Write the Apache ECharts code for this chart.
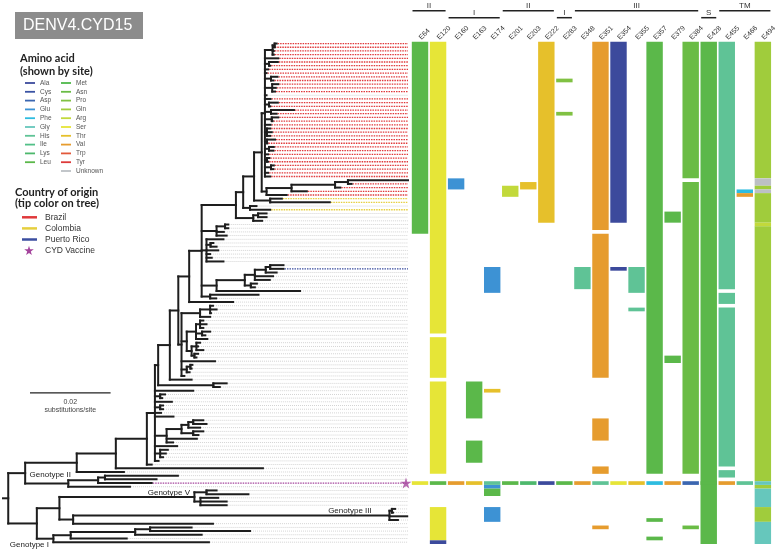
<!DOCTYPE html>
<html><head><meta charset="utf-8">
<script src="https://cdn.jsdelivr.net/npm/echarts@6/dist/echarts.min.js"></script>
<style>html,body{margin:0;padding:0;background:#fff}#c{width:779px;height:551px}</style>
</head><body><div id="c"></div>
<script>
// ---------------- data ----------------
const sites = ['E64','E120','E160','E163','E174','E201','E203','E222','E283','E348','E351','E354','E355','E357','E379','E384','E428','E455','E466','E494'];
const regionNames = ['II','I','II','I','III','S','TM'];
const regionFirst = [0,2,5,8,9,16,17];
const regionLast  = [1,4,7,8,15,16,19];
const regionTier  = [0,1,0,1,0,1,0];

const aminoAcids = ['Ala','Cys','Asp','Glu','Phe','Gly','His','Ile','Lys','Leu','Met','Asn','Pro','Gln','Arg','Ser','Thr','Val','Trp','Tyr','Unknown'];
const aaColors   = ['#3c4a9c','#3a53a4','#3b66b0','#3d92d4','#2dbce0','#66c7bc','#5fc396','#52c088','#4db86c','#5bb84a','#4fb84a','#6abc45','#80c143','#a0cc3c','#c2d93b','#e6e537','#e6c02b','#e69c2e','#e2583a','#dd3a3a','#bcc0c4'];

const countries    = ['Brazil','Colombia','Puerto Rico','CYD Vaccine'];
const countryCodes = ['B','C','P','V'];
const countryColors= ['#e0393b','#e6cf3e','#3b4ea0','#a4439c'];

const totalRows = 136;
const vaccineRow = 119;
const vaccineSites = ['Ser','Leu','Val','Thr','His','Leu','Lys','Ala','Leu','Val','His','Ser','Thr','Phe','Val','Asp','Leu','Val','His','Gly'];

// [site index, first row, end row (exclusive), amino acid]
const blocks = [
  [0,0,52,'Leu'],
  [1,0,79,'Ser'],[1,80,91,'Ser'],[1,92,117,'Ser'],[1,126,135,'Ser'],[1,135,136,'Ala'],
  [2,37,40,'Glu'],
  [3,92,102,'Leu'],[3,108,114,'Leu'],
  [4,61,68,'Glu'],[4,94,95,'Thr'],[4,120,121,'Glu'],[4,121,123,'Leu'],[4,126,130,'Glu'],
  [5,39,42,'Arg'],
  [6,38,40,'Thr'],
  [7,0,49,'Thr'],
  [8,10,11,'Pro'],[8,19,20,'Pro'],
  [9,61,67,'His'],
  [10,0,51,'Val'],[10,52,91,'Val'],[10,102,108,'Val'],[10,115,117,'Val'],[10,131,132,'Val'],
  [11,0,49,'Ala'],[11,61,62,'Ala'],
  [12,61,68,'His'],[12,72,73,'His'],
  [13,0,117,'Leu'],[13,129,130,'Leu'],[13,134,135,'Leu'],
  [14,46,49,'Leu'],[14,85,87,'Leu'],
  [15,0,37,'Asn'],[15,38,117,'Asn'],[15,131,132,'Asn'],
  [16,0,136,'Leu'],
  [17,0,67,'His'],[17,68,71,'His'],[17,72,115,'His'],[17,116,118,'His'],
  [18,40,41,'Phe'],[18,41,42,'Val'],
  [19,0,37,'Gln'],[19,37,39,'Unknown'],[19,39,40,'Gln'],[19,40,41,'Unknown'],[19,41,49,'Gln'],[19,49,50,'Arg'],
  [19,50,119,'Gln'],[19,120,121,'Gln'],[19,121,126,'Gly'],[19,126,130,'Gln'],[19,130,136,'Gly']
];

// Tree: node = [distance from root (0.001 substitutions/site), children] ; tip = [distance, country code]
const cladeBrazil = [65.0, [
  [66.9, [[67.4, [[67.9,'B'],[67.2,'B']]], [67.2,'B'], [67.2,'B']]],
  [68.3,'B'],
  [66.0, [[68.2,'B'],[66.3,'B']]],
  [65.8,'B'],
  [65.4,'B'],
  [66.5, [[68.1,'B'],[67.1,'B']]],
  [66.8, [[68.3,'B'],[67.7,'B'],[67.5,'B']]],
  [65.4,'-'],
  [66.4,'B'],
  [66.0, [[68.2,'B'],[66.3,'B']]],
  [66.5, [[72.2,'B'],[67.9,'B']]],
  [66.7, [[68.3,'B'],[66.9,'B']]],
  [66.4,'B'],
  [65.5, [[66.3,'B'],[66.7,'B'],[66.3,'B']]],
  [65.5, [[67.5,'B'],[65.6,'B']]],
  [66.0, [[67.2,'B'],[67.1,'B']]],
  [65.8,'B'],
  [65.5, [[66.1,'B'],[65.8,'B']]],
  [66.5, [[67.2,'B'],[67.1,'B']]],
  [65.8,'B'],
  [66.3,'B']
]];
const cladeBrazilLong = [65.4, [[71.6, [[82.4, [[85.6, [[100.5,'K'],[86.5,'B']]], [83.7,'B']]], [75.4,'B']]], [70.4,'B']]];
const cladeColombia = [66.3, [[69.2,'C'],[81.1,'C']]];
const cladeMixed = [61.3, [[62.9,'-'],[66.3,'C']]];
const cladeT2 = [62.1, [[63.3, [[65.4,'-'],[65.4,'-']]], [64.3,'-']]];
const cladeS2 = [53.0, [[55.1, [[55.9,'-'],[55.9,'-']]], [54.8,'-'], [55.5,'-']]];
const cladeS3 = [50.5, [[54.7,'-'], [51.5, [[52.2,'-'],[53.0,'-']]], [53.4,'-'], [51.4,'-'], [51.8,'-'], [54.7,'-']]];
const cladePuertoRico = [60.0, [[62.5, [[65.2, [[66.3, [[69.6,'-'],[69.6,'P']]], [67.9,'-']]], [67.0,'-'], [66.2,'-']]], [61.5, [[63.0,'-'],[62.5,'-']]]]];
const cladeS5 = [51.4, [[63.4,'-'],[52.9,'-']]];
const cladeQa = [48.9, [[51.4, [[52.1,'-'],[53.0,'-'],[51.6,'-']]], [51.4,'-']]];
const cladeQb = [47.9, [[48.9, [[49.7,'-'],[50.5,'-'],[49.7,'-']]], [49.4, [[51.4,'-'],[50.2,'-']]], [50.7,'-']]];
const cladeQc = [46.8, [[48.0, [[48.9,'-'],[48.4,'-'],[49.7,'-']]], [47.5, [[48.4,'-'],[48.0,'-']]]]];
const cladeQf = [45.6, [[46.5, [[47.0,'-'],[46.8,'-']]], [46.3,'-']]];
const cladePa = [52.2, [[55.5,'-'],[53.8,'-']]];
const cladePd = [40.6, [[44.3, [[46.0, [[47.2, [[49.7,'-'],[50.5,'-']]], [48.9,'-']]], [47.2, [[49.7,'-'],[48.5,'-']]]]], [48.1,'-'], [42.2,'-']]];
const cladeD = [16.2, [[23.6, [[25.3, [[43.4,'-'],[38.1,'-']]], [36.9,'V']]], [31.5,'-']]];
const cladeGenoV = [47.5, [[50.5, [[53.0,'-'],[60.9,'-']]], [49.0, [[53.4,'-'],[55.5,'-'],[55.5,'-']]]]];
const cladeGenoIII = [95.9, [[96.5, [[97.3,'-'],[96.8,'-']]], [100.3,'-'], [98.0,'-']]];
const cladeGenoI = [12.5, [[16.8, [[32.8, [[36.5, [[46.8,'-'],[61.3,'-']]], [49.3,'-']]], [30.7,'-']]], [51.1,'-']]];

const cladeS = [49.3, [[57.8, [[59.6, [[62.3, [[64.2, [cladeBrazil, cladeBrazilLong]], cladeColombia]], cladeMixed]], cladeT2]],
  cladeS2, cladeS3, [53.0, [cladePuertoRico, [73.7,'-']]], cladeS5]];
const cladeQ0 = [41.4, [[43.5, [[46.2, [cladeS, [57.1,'-']]], [44.3, [cladeQa, [45.6, [cladeQb, cladeQc]], [52.6,'-'], cladeQf, [45.0,'-']]]]], [46.8,'-']]];
const cladeP = [37.7, [[38.5, [cladeQ0, cladePa]], [47.2,'-'], [39.0, [[40.2,'-'],[39.5,'-']]], [41.9,'-'],
  [39.0, [[39.7,'-'],[39.7,'-']]], [39.2,'-'], [42.3,'-'], cladePd, [43.2,'-'], [39.0, [[40.9,'-'],[40.4,'-'],[39.7,'-']]], [38.6,'-']]];
const cladeGenoII = [5.5, [[18.3, [[28.0, [[35.7, [cladeP, [36.9,'-']]], [64.5,'-']]], [30.0,'-']]], cladeD]];
const tree = [1.3, [cladeGenoII, [8.4, [[14.0, [cladeGenoV, [17.4, [cladeGenoIII, [52.1,'-']]]]], cladeGenoI]]]];

const treeEnd = 100.5;            // end of the tip guide lines (0.001 subs/site)
const scaleBar = [6.7, 95.1, 20]; // start, row, length (0.001 subs/site)
const genotypeLabels = [
  ['Genotype II', 6.6, 117.2, 'left'],
  ['Genotype V', 46.4, 122.1, 'right'],
  ['Genotype III', 91.5, 127.0, 'right'],
  ['Genotype I', 1.7, 136.1, 'left']
];

// ---------------- build ----------------
const FONT = "'Liberation Sans', Arial, sans-serif";
const HEAD = "bold 11px Lato, sans-serif";
const segs = [], tips = [];
(function(){
  let row = 0;
  function walk(node, pd){
    const d = node[0];
    if (!Array.isArray(node[1])) {
      const y = row + 0.5; row++;
      segs.push([pd, y, d, y]);
      tips.push([d, y, node[1]]);
      return y;
    }
    const ys = node[1].map(ch => walk(ch, d));
    const y = (ys[0] + ys[ys.length-1]) / 2;
    segs.push([d, ys[0], d, ys[ys.length-1]]);
    segs.push([pd, y, d, y]);
    return y;
  }
  walk(tree, 0);
})();

const tipData = tips.filter(t => t[2] !== 'K').map(t => [t[0], t[1], countryCodes.indexOf(t[2])]);
const blockData = blocks.map(b => [b[0], b[1], b[2], aminoAcids.indexOf(b[3])]);
vaccineSites.forEach((aa, i) => blockData.push([i, vaccineRow, vaccineRow + 1, aminoAcids.indexOf(aa)]));
const regionData = regionNames.map((n, i) => [regionFirst[i], regionLast[i], regionTier[i], i]);
const starPts = [[50,2],[61,37],[98,37],[68,59],[79,95],[50,73],[21,95],[32,59],[2,37],[39,37]];
const starPath = 'M' + starPts.map(p => p.join(',')).join(' L') + ' Z';

// legend graphics
const g = [];
g.push({type:'rect', shape:{x:15, y:12, width:128, height:27}, style:{fill:'#8c8c8c'}});
g.push({type:'text', x:23, y:26, style:{text:'DENV4.CYD15', font:'16px '+FONT, fill:'#fff', textVerticalAlign:'middle', verticalAlign:'middle'}});
g.push({type:'text', x:20, y:58.5, style:{text:'Amino acid', font:HEAD, fill:'#222', textVerticalAlign:'middle', verticalAlign:'middle'}});
g.push({type:'text', x:20, y:71.5, style:{text:'(shown by site)', font:HEAD, fill:'#222', textVerticalAlign:'middle', verticalAlign:'middle'}});
aminoAcids.forEach((aa, i) => {
  const left = i < 10;
  const k = left ? i : i - 10;
  const y = 83 + k * 8.8;
  const lx = left ? 25 : 61;
  g.push({type:'line', shape:{x1:lx, y1:y, x2:lx+10, y2:y}, style:{stroke:aaColors[i], lineWidth:1.8}});
  g.push({type:'text', x:lx+15, y:y, style:{text:aa, font:'6.5px '+FONT, fill:'#555', textVerticalAlign:'middle', verticalAlign:'middle'}});
});
g.push({type:'text', x:15, y:192, style:{text:'Country of origin', font:HEAD, fill:'#222', textVerticalAlign:'middle', verticalAlign:'middle'}});
g.push({type:'text', x:15, y:203.5, style:{text:'(tip color on tree)', font:HEAD, fill:'#222', textVerticalAlign:'middle', verticalAlign:'middle'}});
countries.forEach((c, i) => {
  const y = 217.3 + i * 11.1;
  if (countryCodes[i] === 'V') {
    g.push({type:'polygon', shape:{points: starPts.map(p => [24 + p[0]/10, y - 5 + p[1]/10])}, style:{fill:countryColors[i]}});
  } else {
    g.push({type:'line', shape:{x1:22, y1:y, x2:37, y2:y}, style:{stroke:countryColors[i], lineWidth:2.5}});
  }
  g.push({type:'text', x:45, y:y, style:{text:c, font:'8.5px '+FONT, fill:'#333', textVerticalAlign:'middle', verticalAlign:'middle'}});
});

const chart = echarts.init(document.getElementById('c'));
chart.setOption({
  animation: false,
  backgroundColor: '#fff',
  grid: [
    {left:3, top:41.7, width:405, height:502.3},
    {left:411, top:41.7, width:361.6, height:502.3}
  ],
  xAxis: [
    {gridIndex:0, type:'value', min:0, max:treeEnd, show:false},
    {gridIndex:1, type:'category', data:sites, position:'top',
     axisLine:{show:false}, axisTick:{show:false},
     axisLabel:{rotate:45, interval:0, fontSize:7, margin:3, color:'#333', fontFamily:FONT}}
  ],
  yAxis: [
    {gridIndex:0, type:'value', min:0, max:totalRows, inverse:true, show:false},
    {gridIndex:1, type:'value', min:0, max:totalRows, inverse:true, show:false}
  ],
  graphic: g,
  series: [
    { // tip guide lines
      type:'custom', xAxisIndex:0, yAxisIndex:0, data:tipData, silent:true,
      renderItem(p, api){
        const a = api.coord([api.value(0), api.value(1)]);
        const b = api.coord([treeEnd, api.value(1)]);
        const ci = api.value(2);
        const col = ci >= 0 ? countryColors[ci] : '#cfcfcf';
        return {type:'line', shape:{x1:a[0]+1, y1:a[1], x2:b[0], y2:b[1]},
          style:{stroke:col, lineWidth: ci >= 0 ? 1.3 : 0.9, lineDash: ci >= 0 ? [1.5,1] : [1,1]}};
      }
    },
    { // tree branches
      type:'custom', xAxisIndex:0, yAxisIndex:0, data:segs, silent:true,
      renderItem(p, api){
        const a = api.coord([api.value(0), api.value(1)]);
        const b = api.coord([api.value(2), api.value(3)]);
        return {type:'line', shape:{x1:a[0], y1:a[1], x2:b[0], y2:b[1]},
          style:{stroke:'#1e1e1e', lineWidth:2, lineCap:'square'}};
      }
    },
    { // vaccine star
      type:'scatter', xAxisIndex:0, yAxisIndex:0, silent:true,
      data:[[treeEnd - 0.5, vaccineRow + 0.5]], symbol:'path://' + starPath, symbolSize:11,
      itemStyle:{color:countryColors[3]}
    },
    { // scale bar + genotype labels
      type:'custom', xAxisIndex:0, yAxisIndex:0, silent:true, data:[scaleBar],
      renderItem(p, api){
        const a = api.coord([api.value(0), api.value(1)]);
        const b = api.coord([api.value(0) + api.value(2), api.value(1)]);
        const mid = (a[0] + b[0]) / 2;
        const rh = api.size([0, 1])[1];
        const children = [
          {type:'line', shape:{x1:a[0], y1:a[1], x2:b[0], y2:b[1]}, style:{stroke:'#222', lineWidth:1.2}},
          {type:'text', x:mid, y:a[1] + 2.5*rh, style:{text:(api.value(2)/1000).toFixed(2), font:'7px '+FONT, fill:'#444', align:'center', verticalAlign:'middle'}},
          {type:'text', x:mid, y:a[1] + 4.7*rh, style:{text:'substitutions/site', font:'7px '+FONT, fill:'#444', align:'center', verticalAlign:'middle'}}
        ];
        genotypeLabels.forEach(l => {
          const q = api.coord([l[1], l[2]]);
          children.push({type:'text', x:q[0], y:q[1], style:{text:l[0], font:'8px '+FONT, fill:'#222', align:l[3], verticalAlign:'middle'}});
        });
        return {type:'group', children};
      }
    },
    { // heatmap blocks
      type:'custom', xAxisIndex:1, yAxisIndex:1, data:blockData, silent:true,
      renderItem(p, api){
        const t = api.coord([api.value(0), api.value(1)]);
        const b = api.coord([api.value(0), api.value(2)]);
        const w = api.size([1, 0])[0] * 0.91;
        return {type:'rect', shape:{x:t[0]-w/2, y:t[1], width:w, height:b[1]-t[1]},
          style:{fill:aaColors[api.value(3)]}};
      }
    },
    { // domain headers
      type:'custom', xAxisIndex:1, yAxisIndex:1, data:regionData, silent:true,
      renderItem(p, api){
        const band = api.size([1, 0])[0];
        const x1 = api.coord([api.value(0), 0])[0] - band/2 + 1.5;
        const x2 = api.coord([api.value(1), 0])[0] + band/2 - 1.5;
        const top = api.coord([0, 0])[1];
        const tier = api.value(2);
        const ly = top - (tier ? 24 : 31);
        const ty = top - (tier ? 29 : 36.3);
        return {type:'group', children:[
          {type:'line', shape:{x1, y1:ly, x2, y2:ly}, style:{stroke:'#222', lineWidth:1.5}},
          {type:'text', x:(x1+x2)/2, y:ty, style:{text:regionNames[api.value(3)], font:'8px '+FONT, fill:'#333', align:'center', verticalAlign:'middle'}}
        ]};
      }
    }
  ]
});
</script></body></html>
